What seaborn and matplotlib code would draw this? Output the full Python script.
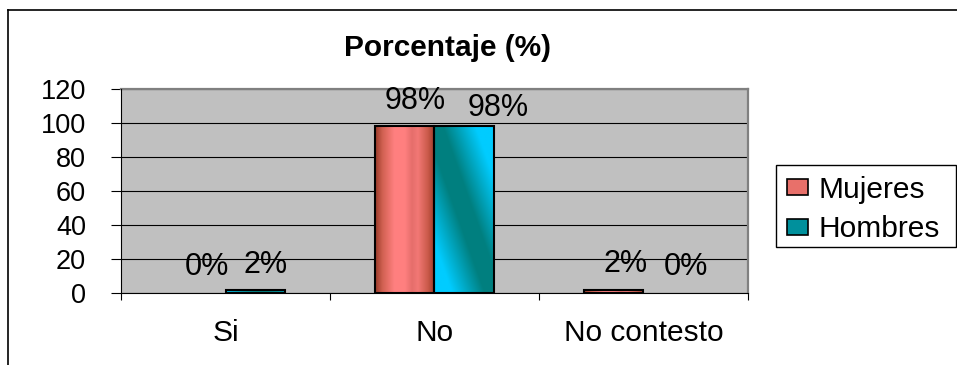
import numpy as np
import pandas as pd
import matplotlib
matplotlib.use("Agg")
import matplotlib.pyplot as plt
from matplotlib.lines import Line2D
from matplotlib.patches import Patch, Rectangle
import seaborn as sns

# ---- data ----
categories = ["Si", "No", "No contesto"]
mujeres = [0, 98, 2]
hombres = [2, 98, 0]
series_names = ["Mujeres", "Hombres"]
y_ticks = [0, 20, 40, 60, 80, 100, 120]
title = "Porcentaje (%)"

plt.rcParams["font.family"] = ["Liberation Sans", "DejaVu Sans"]

df = pd.DataFrame({
    "Categoria": categories * 2,
    "Porcentaje": mujeres + hombres,
    "Sexo": [series_names[0]] * len(categories) + [series_names[1]] * len(categories),
})

W, H = 957, 365
fig = plt.figure(figsize=(W / 100, H / 100), dpi=100)
ax = fig.add_axes([121 / W, 1 - 293 / H, (748 - 121) / W, (293 - 89) / H])
ax.set_facecolor("#C0C0C0")

sns.barplot(data=df, x="Categoria", y="Porcentaje", hue="Sexo", order=categories,
            hue_order=series_names, width=0.565, ax=ax, edgecolor="black",
            linewidth=1.5, palette=["#F07878", "#00A0B0"], legend=False,
            saturation=1, errorbar=None)

ax.set_xlim(-0.5, 2.5)
ax.set_ylim(0, 120)

# gradients
def mujeres_grad(nx=64, ny=4):
    stops_x = [0.0, 0.12, 0.32, 0.5, 0.62, 0.72, 0.88, 1.0]
    stops_c = [(0.60, 0.23, 0.16), (0.82, 0.38, 0.32), (1.0, 0.50, 0.50),
               (1.0, 0.50, 0.50), (0.90, 0.43, 0.42), (0.95, 0.47, 0.46),
               (0.80, 0.36, 0.30), (0.62, 0.24, 0.17)]
    xs = np.linspace(0, 1, nx)
    row = np.stack([np.interp(xs, stops_x, [c[i] for c in stops_c]) for i in range(3)], axis=-1)
    return np.repeat(row[None, :, :], ny, axis=0)

def hombres_grad(nx=64, ny=160):
    xs = np.linspace(0, 1, nx)[None, :]
    ys = np.linspace(0, 1, ny)[:, None]
    t = np.abs(xs + ys - 1.0)
    teal = np.array([0.0, 0.50, 0.50])
    cyan = np.array([0.0, 0.80, 1.0])
    f = np.clip((t - 0.15) / 0.55, 0, 1)[..., None]
    return teal + (cyan - teal) * f

grads = [mujeres_grad(), hombres_grad()]
for ci, cont in enumerate(ax.containers):
    for p in cont.patches:
        x, y, w, h = p.get_x(), p.get_y(), p.get_width(), p.get_height()
        if h <= 0:
            p.set_linewidth(0)
            p.set_facecolor("none")
            continue
        im = ax.imshow(grads[ci], extent=(x, x + w, y, y + h), origin="lower",
                       aspect="auto", zorder=1.5, interpolation="bilinear")
        im.set_clip_path(p)
        p.set_facecolor("none")
        p.set_zorder(2)
ax.set_xlim(-0.5, 2.5)
ax.set_ylim(0, 120)

# data labels
dx = [[11, 10, 12], [11, 34, 13]]
dy = [[26, 25, 26], [25, 18, 26]]
vals = [mujeres, hombres]
for ci, cont in enumerate(ax.containers):
    for j, p in enumerate(cont.patches):
        xc = p.get_x() + p.get_width() / 2
        ax.annotate(f"{vals[ci][j]}%", xy=(xc, vals[ci][j]),
                    xytext=(dx[ci][j], dy[ci][j]), textcoords="offset pixels",
                    ha="center", va="center", fontsize=22, color="black",
                    annotation_clip=False, zorder=5)

# axes styling
ax.set_yticks(y_ticks)
ax.set_yticklabels([str(v) for v in y_ticks], fontsize=19.5)
ax.yaxis.grid(True, color="black", linewidth=0.8)
ax.xaxis.grid(False)
ax.set_axisbelow(True)
ax.tick_params(axis="y", direction="out", length=7.2, width=0.8, pad=18, colors="black")
ax.set_xticks(range(len(categories)))
ax.set_xticklabels(categories, fontsize=21.5)
ax.tick_params(axis="x", which="major", length=0, pad=19)
ax.set_xticks([-0.5, 0.5, 1.5, 2.5], minor=True)
ax.tick_params(axis="x", which="minor", direction="out", length=5, width=0.8, color="black")
ax.set_xlabel("")
ax.set_ylabel("")
for s in ["top", "right"]:
    ax.spines[s].set_color("#808080")
    ax.spines[s].set_linewidth(1.6)
for s in ["left", "bottom"]:
    ax.spines[s].set_color("black")
    ax.spines[s].set_linewidth(0.8)
    ax.spines[s].set_zorder(3)

# title
fig.text(448 / W, 1 - 48 / H, title, ha="center", va="center",
         fontsize=21.5, fontweight="bold")

# legend (frame drawn separately)
fig.add_artist(Rectangle((776 / W, 1 - 247 / H), (956 - 776) / W, (247 - 165) / H,
                         transform=fig.transFigure, facecolor="white",
                         edgecolor="black", linewidth=1.0, zorder=4))
handles = [Patch(facecolor="#E8706A", edgecolor="black", linewidth=1.2),
           Patch(facecolor="#00909C", edgecolor="black", linewidth=1.2)]
leg = fig.legend(handles, series_names, loc="upper left",
                 bbox_to_anchor=(781 / W, 1 - 170 / H), bbox_transform=fig.transFigure,
                 frameon=False, fontsize=21.5, handlelength=0.69, handleheight=0.45,
                 handletextpad=0.38, labelspacing=0.38, borderpad=0.2,
                 borderaxespad=0)
leg.set_zorder(5)

# outer chart border
fig.add_artist(Line2D([8 / W, 1.01], [1 - 9.5 / H] * 2, transform=fig.transFigure,
                      color="black", linewidth=1.2))
fig.add_artist(Line2D([8 / W] * 2, [1 - 9.5 / H, -0.01], transform=fig.transFigure,
                      color="black", linewidth=1.2))

fig.savefig("out.png", dpi=100)
